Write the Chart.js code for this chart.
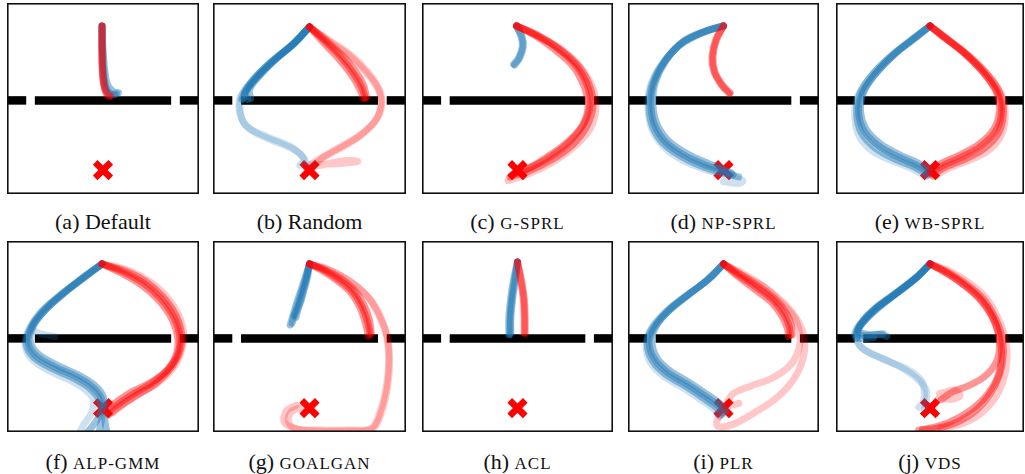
<!DOCTYPE html>
<html>
<head>
<meta charset="utf-8">
<script src="https://cdn.jsdelivr.net/npm/chart.js@4"></script>
<style>
  html, body { margin: 0; padding: 0; background: #fff; }
  body { width: 1025px; height: 474px; position: relative; overflow: hidden; }
  .panel { position: absolute; }
  .cap { position: absolute; text-align: center; font-family: "Liberation Serif", "Times New Roman", "DejaVu Serif", serif;
         font-size: 22px; line-height: 24px; color: #111; white-space: nowrap; }
  .sc { font-size: 17px; letter-spacing: 1px; }
</style>
</head>
<body>
<script>
// environment geometry (0..100 both ways, y up)
const wallY = 49;
const wallSegments = [[0, 10], [14.5, 85.5], [90, 100]];
const goal = [50, 12.5];

const panelLetters = ['a', 'b', 'c', 'd', 'e', 'f', 'g', 'h', 'i', 'j'];
const panelNames = ['Default', 'Random', 'G-SPRL', 'NP-SPRL', 'WB-SPRL', 'ALP-GMM', 'GOALGAN', 'ACL', 'PLR', 'VDS'];
const smallCaps = [false, false, true, true, true, true, true, true, true, true];

// (a) Default
const aBlue = [
  [[49.5,88],[49.7,76],[50.3,64],[51.5,56],[54,52.5],[57,52.5]],
  [[49.5,88],[50,76],[51,64],[52.5,57],[55.5,53.5],[58,53]],
  [[49.5,88],[49.6,76],[50,64],[51,56],[53,52.5],[56,52]]
];
const aRed = [
  [[49.5,88],[49.3,76],[49.6,64],[50.5,56],[52,52],[53.5,51]],
  [[49.5,88],[49.5,76],[49.8,64],[50.8,56],[52.5,52],[54,51.5]]
];
const aBlueFaint = [], aRedFaint = [];

// (b) Random
const bBlue = [
  [[50,87.5],[42,79],[32,70],[23,61],[17,54],[16,50]],
  [[50,87.5],[41,78],[30,69],[21,60],[16.5,53],[18,49.5]],
  [[50,87.5],[43,80],[34,72],[25,63],[19,55],[19.5,50]],
  [[50,87.5],[42,78.5],[31,69.5],[22,60.5],[16,52],[15,49.5]]
];
const bBlueFaint = [
  [[50,87.5],[42,79],[31,70],[21,60],[15,52],[14,45],[16,37],[24,31],[36,26],[44,22],[47,18],[45,15]],
  [[50,87.5],[41,78],[30,69],[20,59],[14,50],[14,42],[18,35],[28,30],[40,25],[46,20],[49,16],[52,15]]
];
const bRed = [
  [[50,87.5],[58,80],[66,72],[73,63],[77,56],[79,50]],
  [[50,87.5],[59,80],[67,72.5],[74,64],[78,57],[79.5,51]],
  [[50,87.5],[57.5,79],[65,71],[72,62],[76,55],[78,50]]
];
const bRedFaint = [
  [[50,87.5],[60,80],[70,73],[79,64],[85,56],[87,49],[85,40],[77,31],[66,24],[57,19],[51,14]],
  [[50,87.5],[60,80.5],[71,73],[80,64],[86,55],[87.5,47],[84,38],[75,30],[63,23],[53,17],[48,14]],
  [[51,14],[60,16],[70,17.5],[75,17],[66,16],[55,15.5]]
];

// (c) G-SPRL
const cBlue = [
  [[49.5,88],[52.5,82],[53,77],[51,71],[48.5,67.5]],
  [[49.5,88],[52,82],[52.5,77],[50.5,71],[48,68]]
];
const cRed = [
  [[49.5,88],[60,83],[70,77],[80,68],[86.5,57],[88,47],[85,37],[78,28],[68,20],[57,14],[49,11]],
  [[49.5,88],[61,83],[72,76],[82,67],[88,56],[89.5,46],[86,35],[79,26],[68,18],[56,12],[46,9]],
  [[49.5,88],[60,82.5],[69,76],[79,67],[85,56],[87,46],[84,36],[76,27],[65,19],[55,13],[47,10]]
];
const cBlueFaint = [];
const cRedFaint = [
  [[49.5,88],[62,82],[74,75],[84,65],[90,54],[91,44],[88,34],[80,25],[69,17],[57,11],[45,7]]
];

// (d) NP-SPRL
const dRed = [
  [[50,88],[46,81],[44,72],[45,64],[49,57],[53,52.5]],
  [[50,88],[46.5,81],[44.5,72],[45.5,64],[49.5,57],[53.5,53]]
];
const dBlue = [
  [[50,88],[40,85],[28,79],[19,69],[13.5,58],[12,47],[14,36],[20,27],[30,20],[41,15],[50,12],[55,10]],
  [[50,88],[39,84.5],[27,78],[18,68],[12.5,57],[11,46],[13,35],[19,26],[29,19],[40,14],[50,11],[58,9]],
  [[50,88],[41,85.5],[29,80],[20,70],[14.5,59],[13,48],[15,37],[21,28],[31,21],[42,16],[50,13],[54,11]]
];
const dBlueFaint = [
  [[50,88],[38,84],[26,77],[17,67],[11.5,56],[10.5,45],[12.5,34],[18.5,25],[28,18],[40,13],[52,9.5],[60,7],[58,5.5],[50,6.5]]
];
const dRedFaint = [];

// (e) WB-SPRL
const eBlue = [
  [[50,88],[41,81],[31,73],[21,63],[14,53],[12,43],[15,33],[23,25],[34,19],[43,15],[50,11]],
  [[50,88],[40,80.5],[29,72],[19,62],[12.5,52],[11,42],[13.5,32],[21,24],[32,18],[42,14],[49,10]],
  [[50,88],[42,81.5],[32,74],[22,64],[15,54],[13,44],[16,34],[24,26],[35,20],[44,16],[50,12]]
];
const eBlueFaint = [
  [[50,88],[39,80],[28,71],[18,61],[11.5,51],[10,40],[12.5,30],[20,22],[31,17],[41,13],[48,9]]
];
const eRed = [
  [[50,88],[59,81],[69,73],[79,63],[86,53],[88,43],[85,33],[77,25],[66,19],[57,15],[50,11]],
  [[50,88],[60,80.5],[71,72],[81,62],[87.5,52],[89,42],[86.5,32],[79,24],[68,18],[58,14],[51,10]],
  [[50,88],[58,81.5],[68,74],[78,64],[85,54],[87,44],[84,34],[76,26],[65,20],[56,16],[50,12]]
];
const eRedFaint = [
  [[50,88],[61,80],[72,71],[82,61],[88.5,51],[90,40],[87.5,30],[80,22],[69,17],[59,13],[52,9]]
];

// (f) ALP-GMM
const fBlue = [
  [[49.5,88],[40,81],[30,73],[20,64],[13,55],[11,47],[15,40],[25,34],[36,29],[44,24],[49,18],[50,12],[49,5],[48,0]],
  [[49.5,88],[39,80],[28,72],[18,63],[12,54],[10,46],[14,39],[24,33],[35,28],[43,23],[48,17],[49,11],[46,5],[42,0]],
  [[49.5,88],[41,82],[31,74],[21,65],[14,56],[12,48],[16,41],[26,35],[37,30],[45,25],[50,19],[51,13],[51,6],[52,0]]
];
const fBlueFaint = [
  [[49.5,88],[40,81],[29,72],[19,63],[13,55],[16,52],[22,50.5],[25,50]],
  [[49.5,88],[38,79],[27,71],[17,62],[11,53],[9.5,45],[13,38],[22,32],[33,27],[41,22],[45,17],[44,10],[40,4],[38,0]]
];
const fRed = [
  [[49.5,88],[60,84],[71,78],[80,70],[87,60],[90,50],[89,41],[84,33],[76,26],[66,20],[57,14],[52,10]],
  [[49.5,88],[61,84.5],[72,79],[81,71],[88,61],[91,51],[90,42],[85,33],[77,25],[67,19],[58,13],[53,9]],
  [[49.5,88],[59,83.5],[70,77],[79,69],[86,59],[89,49],[88,40],[83,32],[75,26],[65,21],[56,15],[51,11]]
];
const fRedFaint = [
  [[49.5,88],[62,85],[74,79],[83,71],[89,62],[92,52],[91,43],[87,34],[79,26],[69,20],[60,14],[55,10]]
];

// (g) GOALGAN
const gBlue = [
  [[50,88],[48,80],[45.5,72],[43,64],[41,57]],
  [[50,88],[48.5,81],[46.5,73],[44.5,66],[43,60]],
  [[50,88],[47.5,80],[44.5,71],[42,63],[40,56]],
  [[50,88],[49,81],[47,74],[45,67],[42,61]]
];
const gBlueFaint = [];
const gRed = [
  [[50,88],[57,85],[65,80],[72,74],[77,66],[80,58],[81.5,51]],
  [[50,88],[58,85],[66,80.5],[73,74.5],[78,67],[81,59],[82,52]],
  [[50,88],[56.5,84.5],[64,79.5],[71,73.5],[76,65.5],[79,57],[80.5,50]]
];
const gRedFaint = [
  [[50,88],[60,85],[71,79],[80,71],[86,61],[90,50],[91,38],[90,25],[87,12],[82,2],[70,1],[55,1],[44,1.5],[37,5],[38,11],[43,14]],
  [[50,88],[61,84.5],[72,78],[81,70],[87,60],[90.5,49],[91.5,37],[90.5,24],[87.5,11],[82.5,1.5],[70,0.5],[54,0.5],[42,2],[39,6],[41,11],[47,13]]
];

// (h) ACL
const hBlue = [
  [[50,89],[48.5,80],[47,70],[46.2,60],[46,51]],
  [[50,89],[49,80],[47.5,70],[46.5,60],[46.5,52]],
  [[50,89],[48,80],[46.5,70],[45.5,60],[45.5,51]]
];
const hRed = [
  [[50,89],[51.5,80],[53,70],[53.5,60],[53.5,52]],
  [[50,89],[52,80],[53.5,70],[54,60],[54,51.5]]
];
const hBlueFaint = [], hRedFaint = [];

// (i) PLR
const iBlue = [
  [[50,88],[42,80],[32,72],[22,64],[14,55],[11,47],[14,38],[21,31],[31,25],[40,19],[47,14],[50,10]],
  [[50,88],[41,79],[30,71],[20,63],[12.5,54],[10,46],[13,37],[20,30],[30,24],[39,18],[46,13],[49,9]],
  [[50,88],[43,80.5],[33,73],[23,65],[15,56],[12.5,48],[15,39],[22,32],[32,26],[41,20],[48,15],[51,11]]
];
const iBlueFaint = [
  [[50,88],[40,78.5],[29,70],[19,62],[11.5,53],[9.5,45],[12,36],[19,29],[29,23],[38,17],[45,12],[48,8]]
];
const iRed = [
  [[50,88],[58,82],[67,76],[76,69],[82,61],[84.5,55],[85,50.5]],
  [[50,88],[59,82.5],[68,76.5],[77,69.5],[83,62],[85.5,56],[86,51]],
  [[50,88],[57.5,81.5],[66,75],[75,68],[81,60],[83.5,54],[84,50]]
];
const iRedFaint = [
  [[50,88],[60,82],[71,76],[80,68],[87,60],[90,51],[89,42],[84,34],[75,28],[64,24],[55,20],[51,14]],
  [[50,88],[61,82.5],[72,75.5],[82,67],[89,58],[92.5,48],[91.5,38],[87,28],[78,18],[66,10],[55,4],[47,3],[47,7],[52,13],[58,15]]
];

// (j) VDS
const jBlue = [
  [[50,88],[43,81],[33,73],[22,65],[14,57],[11,52],[15,50.5],[23,51],[27,50]],
  [[50,88],[42,80],[31,72],[20,64],[12.5,56],[10,51],[13,49],[20,49.5]],
  [[50,88],[44,82],[35,75],[25,67],[16,59],[12,53],[17,51],[25,51.5]],
  [[50,88],[42,80.5],[32,72.5],[21,64.5],[13,56.5],[11,51],[11,49]]
];
const jBlueFaint = [
  [[50,88],[42,80],[31,72],[20,64],[13,56],[11,49],[14,44],[23,39],[33,35],[41,31],[46,26],[47,19],[46,15],[44,13]],
  [[50,88],[43,81],[32,73],[21,65],[13.5,57],[11.5,48],[15,43],[26,38],[36,33],[43,28],[48,22],[48,16],[47,12]]
];
const jRed = [
  [[50,88],[59,83],[68,77],[76,70],[82,62],[86,53],[87,44],[85,36],[79,29],[70,24],[62,21],[56,17]],
  [[50,88],[60,83.5],[70,77],[78,70],[84,61],[88,51],[89,41],[87,30],[82,20],[74,11],[64,5],[54,2],[46,1]],
  [[50,88],[59.5,83],[69,76.5],[77.5,69],[83.5,60],[87,50],[88,40],[86,29],[80,19],[71,11],[60,5],[50,2],[44,1]]
];
const jRedFaint = [
  [[50,88],[61,84],[71,78],[80,70],[86,60],[90,49],[91,38],[89,27],[84,17],[76,9],[66,4],[56,2]],
  [[52,14],[57,20],[63,22],[66,19],[60,17],[55,20],[62,21]]
];

const blueSets = [aBlue, bBlue, cBlue, dBlue, eBlue, fBlue, gBlue, hBlue, iBlue, jBlue];
const blueFaintSets = [aBlueFaint, bBlueFaint, cBlueFaint, dBlueFaint, eBlueFaint, fBlueFaint, gBlueFaint, hBlueFaint, iBlueFaint, jBlueFaint];
const redSets = [aRed, bRed, cRed, dRed, eRed, fRed, gRed, hRed, iRed, jRed];
const redFaintSets = [aRedFaint, bRedFaint, cRedFaint, dRedFaint, eRedFaint, fRedFaint, gRedFaint, hRedFaint, iRedFaint, jRedFaint];

// layout
const colLeft = [7, 213, 422, 628, 836];
const colWidth = [192, 193, 191, 191, 188];
const rowTop = [3, 241];
const boxH = 191;
const capTop = [210, 450];

const BLUE = '31,119,180';
const RED = '255,0,0';

const frame = {
  id: 'frame',
  afterDraw(chart) {
    const { ctx, chartArea: a } = chart;
    ctx.save();
    ctx.strokeStyle = '#111';
    ctx.lineWidth = 1.6;
    ctx.strokeRect(a.left + 0.8, a.top + 0.8, a.right - a.left - 1.6, a.bottom - a.top - 1.6);
    ctx.restore();
  }
};

function line(points, rgb, alpha) {
  return {
    data: points.map(p => ({ x: p[0], y: p[1] })),
    showLine: true,
    borderColor: `rgba(${rgb},${alpha})`,
    backgroundColor: 'transparent',
    borderWidth: 7,
    pointRadius: 0,
    tension: 0.35,
    borderCapStyle: 'round',
    borderJoinStyle: 'round'
  };
}

panelLetters.forEach((letter, i) => {
  const row = Math.floor(i / 5), col = i % 5;
  const w = colWidth[col];

  const box = document.createElement('div');
  box.className = 'panel';
  box.style.left = colLeft[col] + 'px';
  box.style.top = rowTop[row] + 'px';
  const cv = document.createElement('canvas');
  cv.width = w; cv.height = boxH;
  cv.style.width = w + 'px'; cv.style.height = boxH + 'px';
  box.appendChild(cv);
  document.body.appendChild(box);

  const cap = document.createElement('div');
  cap.className = 'cap';
  cap.style.left = (colLeft[col] - 20) + 'px';
  cap.style.width = (w + 40) + 'px';
  cap.style.top = capTop[row] + 'px';
  cap.appendChild(document.createTextNode('(' + letter + ') '));
  const nm = document.createElement('span');
  if (smallCaps[i]) nm.className = 'sc';
  nm.textContent = panelNames[i];
  cap.appendChild(nm);
  document.body.appendChild(cap);

  // index 0 is painted last (on top)
  const datasets = [];
  redSets[i].forEach(t => datasets.push(line(t, RED, 0.42)));
  redFaintSets[i].forEach(t => datasets.push(line(t, RED, 0.22)));
  blueSets[i].forEach(t => datasets.push(line(t, BLUE, 0.45)));
  blueFaintSets[i].forEach(t => datasets.push(line(t, BLUE, 0.22)));
  datasets.push({
    data: [{ x: goal[0], y: goal[1] }],
    pointStyle: 'crossRot',
    pointRadius: 11,
    borderWidth: 6.5,
    borderColor: '#ff0000',
    backgroundColor: '#ff0000'
  });
  wallSegments.forEach(s => datasets.push({
    data: [{ x: s[0], y: wallY }, { x: s[1], y: wallY }],
    showLine: true,
    borderColor: '#000',
    borderWidth: 8.5,
    borderCapStyle: 'butt',
    pointRadius: 0
  }));

  new Chart(cv, {
    type: 'scatter',
    data: { datasets },
    options: {
      responsive: false,
      animation: false,
      layout: { padding: 0, autoPadding: false },
      plugins: { legend: { display: false }, tooltip: { enabled: false } },
      scales: {
        x: { type: 'linear', min: 0, max: 100, display: false },
        y: { type: 'linear', min: 0, max: 100, display: false }
      }
    },
    plugins: [frame]
  });
});
</script>
</body>
</html>
